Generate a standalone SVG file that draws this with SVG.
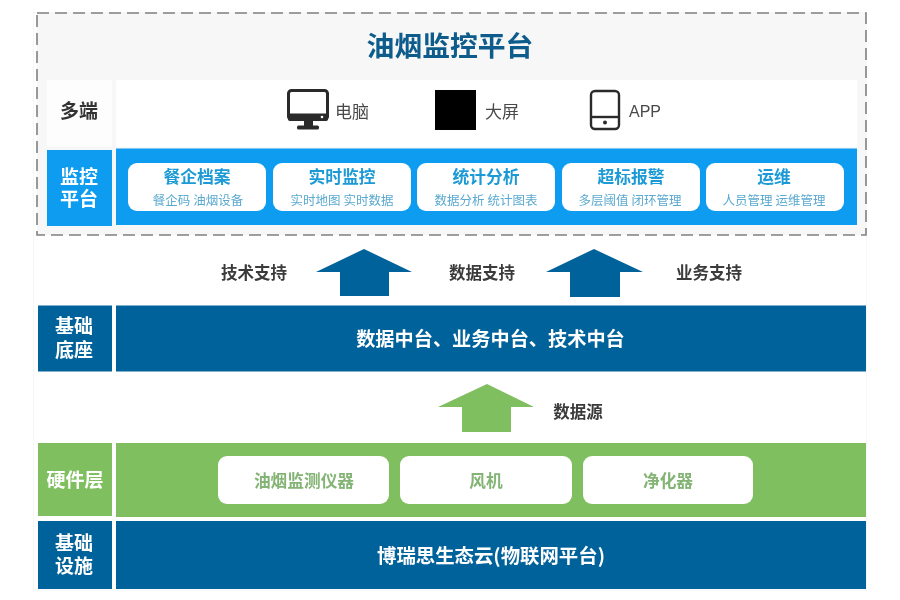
<svg xmlns="http://www.w3.org/2000/svg" width="900" height="600" viewBox="0 0 900 600">
<style>
text{font-family:"Noto Sans CJK SC","Liberation Sans",sans-serif;text-anchor:middle}
.b{font-weight:700}
.lab{font-size:19px;font-weight:700;fill:#fff}
.dark{fill:#3a3a3a;font-size:16.500px;font-weight:700}
.ct{font-size:16.800px;font-weight:700;fill:#1c9ad6}
.cs{font-size:12.500px;fill:#5aa9cf}
.card{fill:#fff}
.blue{fill:#0e9cf0}
.navy{fill:#04629a}
.green{fill:#7fbf5e}
.gt{font-size:16.700px;font-weight:700;fill:#84b474}
.dev{font-size:17px;fill:#4a4a4a}
.main{font-size:19.200px;font-weight:700;fill:#fff}
</style>
<defs><filter id="soft" x="0" y="0" width="100%" height="100%"><feGaussianBlur stdDeviation="0.35"/></filter></defs>
<rect width="900" height="600" fill="#fff"/>
<g filter="url(#soft)">
<rect x="33" y="12" width="834" height="579" fill="#fff" stroke="#eceef0"/>
<g id="platform-frame">
<rect x="37" y="13" width="829" height="222" fill="#f7f7f7" stroke="#808080" stroke-width="1.6" stroke-dasharray="12 6"/>
<text x="450" y="56" class="b" font-size="27.800" fill="#0d5c8c">油烟监控平台</text>
</g>
<g id="row-clients">
<rect x="47" y="80" width="65" height="67" fill="#fdfdfd"/>
<text x="79" y="118" font-size="19" class="b" fill="#333">多端</text>
<rect x="116" y="80" width="741" height="67" fill="#fff"/>
</g>
<g id="client-pc">
<rect x="288.500" y="90.500" width="39" height="29" rx="3" fill="none" stroke="#2b2b2b" stroke-width="3"/>
<rect x="288" y="113.500" width="40" height="7.500" rx="2" fill="#2b2b2b"/>
<circle cx="322" cy="117" r="1.300" fill="#fff"/>
<rect x="304" y="121" width="9" height="5" fill="#2b2b2b"/>
<rect x="297" y="125.500" width="22" height="4" rx="1.500" fill="#2b2b2b"/>
<text x="352" y="118" class="dev">电脑</text>
</g>
<g id="client-screen">
<rect x="435" y="90" width="41" height="40" fill="#000"/>
<text x="502" y="118" class="dev">大屏</text>
</g>
<g id="client-app">
<rect x="591" y="91" width="28" height="38" rx="4" fill="none" stroke="#2b2b2b" stroke-width="2.400"/>
<line x1="591" y1="117" x2="619" y2="117" stroke="#2b2b2b" stroke-width="2.400"/>
<circle cx="605" cy="122.500" r="2" fill="#2b2b2b"/>
<text x="645" y="117" font-size="16" fill="#4a4a4a" style="font-family:'Liberation Sans',sans-serif">APP</text>
</g>
<g id="row-monitor">
<rect x="47" y="150" width="65" height="76" class="blue"/>
<text class="lab"><tspan x="79" y="184">监控</tspan><tspan x="79" y="206">平台</tspan></text>
<rect x="116" y="148.500" width="741" height="76.500" class="blue"/>
</g>
<g id="card-1"><rect x="128" y="163" width="138" height="48" rx="9" class="card"/><text x="197" y="183" class="ct">餐企档案</text><text x="198" y="205" class="cs">餐企码 油烟设备</text></g>
<g id="card-2"><rect x="273" y="163" width="138" height="48" rx="9" class="card"/><text x="342" y="183" class="ct">实时监控</text><text x="342" y="205" class="cs">实时地图 实时数据</text></g>
<g id="card-3"><rect x="417" y="163" width="138" height="48" rx="9" class="card"/><text x="486" y="183" class="ct">统计分析</text><text x="486" y="205" class="cs">数据分析 统计图表</text></g>
<g id="card-4"><rect x="562" y="163" width="138" height="48" rx="9" class="card"/><text x="631" y="183" class="ct">超标报警</text><text x="630" y="205" class="cs">多层阈值 闭环管理</text></g>
<g id="card-5"><rect x="706" y="163" width="138" height="48" rx="9" class="card"/><text x="774" y="183" class="ct">运维</text><text x="774" y="205" class="cs">人员管理 运维管理</text></g>
<g id="connectors">
<polygon points="364,249 412,272 389,272 389,296 340,296 340,272 316,272" class="navy"/>
<polygon points="594,249 643,272 620,272 620,297 570,297 570,272 546,272" class="navy"/>
<polygon points="487,384 534,407 511,407 511,432 462,432 462,407 438,407" class="green"/>
</g>
<g id="support-labels">
<text x="254" y="279" class="dark">技术支持</text>
<text x="482" y="279" class="dark">数据支持</text>
<text x="709" y="279" class="dark">业务支持</text>
<text x="578" y="418" class="dark">数据源</text>
</g>
<g id="row-base">
<rect x="38" y="305.500" width="74" height="66" class="navy"/>
<text class="lab"><tspan x="74" y="333">基础</tspan><tspan x="74" y="357">底座</tspan></text>
<rect x="116" y="305.500" width="750" height="66" class="navy"/>
<text x="490.500" y="346" class="main">数据中台、业务中台、技术中台</text>
</g>
<g id="row-hardware">
<rect x="38" y="443" width="74" height="73" class="green"/>
<text x="75" y="487" class="lab">硬件层</text>
<rect x="116" y="443" width="750" height="74" class="green"/>
</g>
<g id="hw-1"><rect x="218" y="456" width="171" height="48" rx="9" class="card"/><text x="304" y="487" class="gt">油烟监测仪器</text></g>
<g id="hw-2"><rect x="400" y="456" width="172" height="48" rx="9" class="card"/><text x="486" y="487" class="gt">风机</text></g>
<g id="hw-3"><rect x="583" y="456" width="170" height="48" rx="9" class="card"/><text x="668" y="487" class="gt">净化器</text></g>
<g id="row-infra">
<rect x="38" y="521" width="74" height="68" class="navy"/>
<text class="lab"><tspan x="74" y="550">基础</tspan><tspan x="74" y="573">设施</tspan></text>
<rect x="116" y="521" width="750" height="68" class="navy"/>
<text x="491" y="563" font-size="19.400" class="b" fill="#fff">博瑞思生态云(物联网平台)</text>
</g>
</g>
</svg>
